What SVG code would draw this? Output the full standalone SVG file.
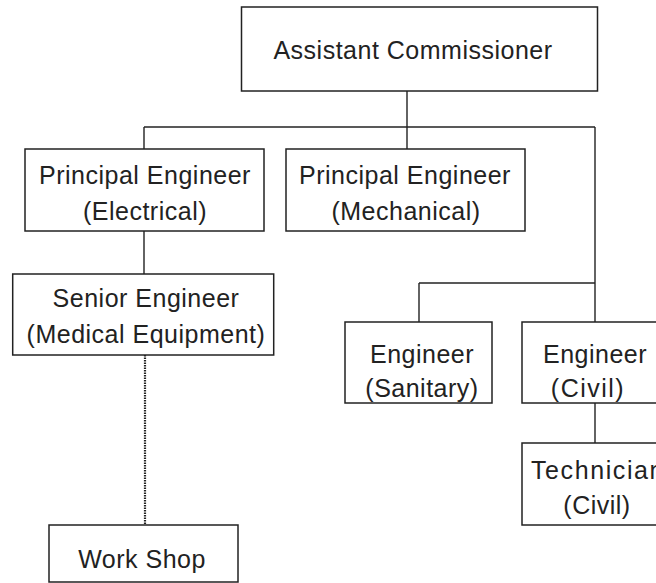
<svg xmlns="http://www.w3.org/2000/svg" width="656" height="583" viewBox="0 0 656 583">
<style>
.box{fill:#fff;stroke:#222;stroke-width:1.5}
.t{font-family:"Liberation Sans",Arial,sans-serif;font-size:25px;fill:#222;letter-spacing:0.5px}
.c{text-anchor:middle}
.ln{fill:none;stroke:#222;stroke-width:1.4}
.dot{fill:none;stroke:#222;stroke-width:2.2;stroke-dasharray:1.6 0.9}
</style>
<rect width="656" height="583" fill="#fff"/>
<g id="connectors">
<path class="ln" d="M407,91 V149"/>
<path class="ln" d="M144,127 H595"/>
<path class="ln" d="M144,127 V149"/>
<path class="ln" d="M595,127 V322"/>
<path class="ln" d="M419,283 H595"/>
<path class="ln" d="M419,283 V322"/>
<path class="ln" d="M144,231 V274"/>
<path class="ln" d="M595,403 V443"/>
<path class="dot" d="M145,355 V525"/>
</g>
<g id="assistant-commissioner">
<rect class="box" x="241.5" y="7" width="356" height="84"/>
<text class="t c" x="413" y="59">Assistant Commissioner</text>
</g>
<g id="pe-electrical">
<rect class="box" x="25" y="149" width="239" height="82"/>
<text class="t c" x="145" y="184">Principal Engineer</text>
<text class="t c" x="145" y="220">(Electrical)</text>
</g>
<g id="pe-mechanical">
<rect class="box" x="286" y="149" width="239" height="82"/>
<text class="t c" x="405" y="184">Principal Engineer</text>
<text class="t c" x="406" y="220">(Mechanical)</text>
</g>
<g id="senior-engineer">
<rect class="box" x="12.7" y="274" width="261" height="81"/>
<text class="t c" x="146" y="307">Senior Engineer</text>
<text class="t c" x="146" y="343">(Medical Equipment)</text>
</g>
<g id="work-shop">
<rect class="box" x="49" y="525" width="189" height="57"/>
<text class="t c" x="142" y="568">Work Shop</text>
</g>
<g id="engineer-sanitary">
<rect class="box" x="345" y="322" width="147" height="81"/>
<text class="t c" x="422" y="363">Engineer</text>
<text class="t c" x="422" y="397">(Sanitary)</text>
</g>
<g id="engineer-civil">
<rect class="box" x="522" y="322" width="150" height="81"/>
<text class="t c" x="595" y="363">Engineer</text>
<text class="t c" x="588" y="397" style="letter-spacing:1.5px">(Civil)</text>
</g>
<g id="technician-civil">
<rect class="box" x="522" y="443" width="150" height="82"/>
<text class="t" x="531" y="479" style="letter-spacing:1.6px">Technician</text>
<text class="t c" x="597" y="514">(Civil)</text>
</g>
</svg>
